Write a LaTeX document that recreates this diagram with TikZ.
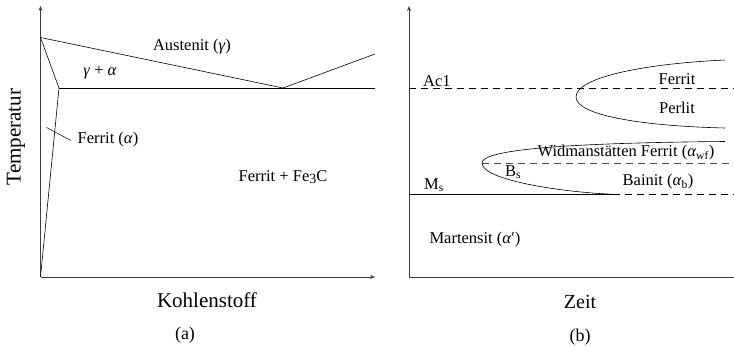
\documentclass[tikz,border=0pt]{standalone}
\usepackage{fontspec}
\setmainfont{Liberation Serif}
\usetikzlibrary{arrows.meta,calc}
\newcommand{\gr}[1]{\textit{#1}}
\tikzset{
  axis/.style={draw=black!75, line width=0.7pt, -{Stealth[length=5pt,width=4pt]}},
  phase/.style={line width=0.6pt},
  lab/.style={font=\fontsize{16.5}{19}\selectfont, inner sep=0pt},
  axlab/.style={font=\fontsize{21}{24}\selectfont, inner sep=0pt},
  guide/.style={line width=0.6pt, dash pattern=on 7pt off 5pt},
}
\begin{document}
\begin{tikzpicture}[x=1pt,y=-1pt]
\useasboundingbox (0,0) rectangle (734,347);
% (a) Eisen-Kohlenstoff, Ausschnitt
\coordinate (o1) at (40.5,277);
\coordinate (a1) at (40.5,37.5);
\coordinate (g1) at (59,88);
\coordinate (eu) at (283,88);
\draw[axis] (o1) -- (40.5,6);
\draw[axis] (o1) -- (375,277);
\draw[phase] (a1) -- (eu) -- (375,54);
\draw[phase] (a1) -- (g1) -- (o1);
\draw[phase] (g1) -- (375,88);
\node[lab] (austenit) at (192,47) {Austenit (\gr{γ})};
\node[lab] (gammaalpha) at (100,73) {\gr{γ} + \gr{α}};
\node[lab, anchor=west] (ferrit) at (77.5,140) {Ferrit (\gr{α})};
\coordinate (fpt) at (46.5,127.5);
\draw[line width=0.5pt] (fpt) -- ($(ferrit.west)+(-6.5,0.5)$);
\node[lab] (zementit) at (283,177) {Ferrit + Fe\raisebox{-0.35ex}{\fontsize{14}{16}\selectfont 3}C};
\node[axlab] (kohlenstoff) at (207,300) {Kohlenstoff};
\node[axlab, rotate=90] (temperatur) at (16,137) {Temperatur};
\node[lab, font=\fontsize{18}{20}\selectfont] (capa) at (185,335) {(a)};
% (b) ZTU-Schema
\coordinate (o2) at (409,277);
\coordinate (nose1) at (576,97);
\coordinate (nose2) at (482,163);
\coordinate (msend) at (613,194.3);
\draw[axis] (o2) -- (409,6);
\draw[draw=black!75, line width=0.7pt] (o2) -- (734,277);
\draw[guide] (o2 |- 0,88.3) -- (734,88.3);
\draw[guide, draw=black!70] (nose2) -- (729,163);
\draw[phase] (o2 |- msend) -- (msend);
\draw[guide] (msend) -- (734,194.3);
\draw[phase] (725,60) .. controls (640,64) and (576,78) .. (nose1)
  .. controls (576,115) and (640,126) .. (725,128);
\draw[phase] (725,141.5) .. controls (560,143) and (482,150) .. (nose2)
  .. controls (482,180) and (560,192) .. (msend);
\node[lab, anchor=south west] (ac1) at (423,87) {Ac1};
\node[lab] (ferritb) at (677,79) {Ferrit};
\node[lab] (perlit) at (677,108) {Perlit};
\node[lab] (widman) at (626,153) {Widmanstätten Ferrit (\gr{α}\textsubscript{wf})};
\node[lab] (bs) at (513,172) {B\textsubscript{s}};
\node[lab] (bainit) at (658,182) {Bainit (\gr{α}\textsubscript{b})};
\node[lab, anchor=south west] (ms) at (424,192) {M\textsubscript{s}};
\node[lab] (martensit) at (475,240) {Martensit (\gr{α}′)};
\node[axlab, font=\fontsize{20}{23}\selectfont] (zeit) at (580,302) {Zeit};
\node[lab, font=\fontsize{18}{20}\selectfont] (capb) at (580,337) {(b)};
\end{tikzpicture}
\end{document}
